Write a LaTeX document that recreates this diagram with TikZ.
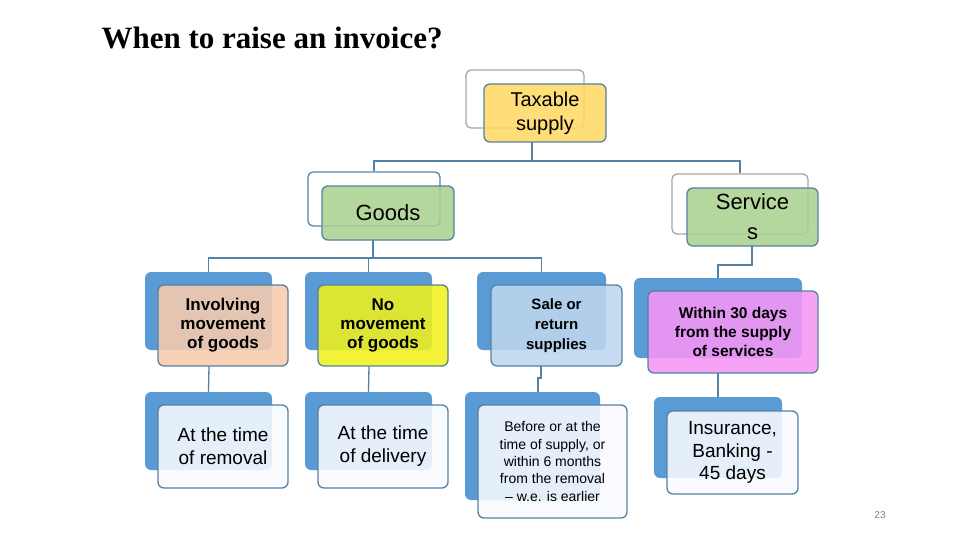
\documentclass[tikz,border=0pt]{standalone}
\usepackage{fontspec}
\setmainfont{Liberation Sans}
\newfontfamily\titlefont{Liberation Serif}
\begin{document}
\begin{tikzpicture}[x=1pt,y=-1pt,
  conn/.style={draw=lineblue,line width=1.3pt},
  outl/.style={draw=#1,line width=1.3pt,rounded corners=5pt,fill=none},
  solidback/.style={fill=backblue,draw=none,rounded corners=6pt},
  front/.style={fill=#1,fill opacity=0.88,text opacity=1,draw=lineblue,line width=1.3pt,rounded corners=6pt,align=center,inner sep=2pt},
  bt/.style={font=\bfseries\fontsize{17}{19}\selectfont}
]
\definecolor{lineblue}{RGB}{84,130,165}
\definecolor{backblue}{RGB}{91,155,213}
\definecolor{ylw}{RGB}{255,217,102}
\definecolor{grn}{RGB}{169,209,142}
\definecolor{peach}{RGB}{248,203,173}
\definecolor{yel}{RGB}{240,240,30}
\definecolor{lblue}{RGB}{189,215,238}
\definecolor{pink}{RGB}{245,150,245}
\definecolor{wht}{RGB}{248,251,255}
\useasboundingbox (0,0) rectangle (960,540);
\node[anchor=west,font=\titlefont\bfseries\fontsize{31}{33}\selectfont] (title) at (98,38) {When to raise an invoice?};
\node[text=gray,font=\fontsize{10}{12}\selectfont] (pg) at (880,515) {23};
% back shapes
\node[outl=gray!70,minimum width=118,minimum height=58] (tb) at (525,99) {};
\node[outl=lineblue,minimum width=132,minimum height=54] (gb) at (374,199) {};
\node[outl=gray!70,minimum width=136,minimum height=60] (sb) at (740,204) {};
\node[solidback,minimum width=127,minimum height=78] (ib) at (208.5,311) {};
\node[solidback,minimum width=127,minimum height=78] (nb) at (368.5,311) {};
\node[solidback,minimum width=129,minimum height=78] (rb) at (541.5,311) {};
\node[solidback,minimum width=168,minimum height=80] (wb) at (718,318) {};
\node[solidback,minimum width=127,minimum height=78] (mb) at (208.5,431) {};
\node[solidback,minimum width=127,minimum height=78] (db) at (368.5,431) {};
\node[solidback,minimum width=135,minimum height=108] (eb) at (532.5,446) {};
\node[solidback,minimum width=128,minimum height=81] (sib) at (718,437.5) {};
% connectors
\coordinate (t1) at (532,161);
\draw[conn] (532,142) -- (t1);
\draw[conn] (t1) -| (gb.north);
\draw[conn] (t1) -| (sb.north);
\coordinate (g1) at (373,258);
\draw[conn] (373,240) -- (g1);
\draw[conn] (g1) -| (ib.north);
\draw[conn] (g1) -| (nb.north);
\draw[conn] (g1) -| (rb.north);
\draw[conn] (752,246) -- (752,265) -| (wb.north);
\draw[conn] (209,366) -- (mb.north);
\draw[conn] (369,366) -- (db.north);
\draw[conn] (541,366) -- (541,378) -- (538,378) -- (538,392);
\draw[conn] (718,373) -- (sib.north);
% fronts
\node[front=ylw,minimum width=122,minimum height=58,font=\fontsize{20}{24}\selectfont] (tax) at (545,113) {Taxable\\supply};
\node[front=grn,minimum width=132,minimum height=54,font=\fontsize{22}{26}\selectfont] (goods) at (388,213) {Goods};
\node[front=grn,minimum width=131,minimum height=58,font=\fontsize{22}{30}\selectfont] (serv) at (752.5,217) {Service\\s};
\node[front=peach,minimum width=130,minimum height=81,bt] (inv) at (223,325.5) {Involving\\movement\\of goods};
\node[front=yel,minimum width=130,minimum height=81,bt] (nom) at (383,325.5) {No\\movement\\of goods};
\node[front=lblue,minimum width=131,minimum height=81,font=\bfseries\fontsize{15}{20}\selectfont] (sale) at (556.5,325.5) {Sale or\\return\\supplies};
\node[front=pink,minimum width=170,minimum height=82,font=\bfseries\fontsize{15.5}{19}\selectfont] (within) at (733,332) {Within 30 days\\from the supply\\of services};
\node[front=wht,minimum width=130,minimum height=83,font=\fontsize{19}{23}\selectfont] (rem) at (223,446.5) {At the time\\of removal};
\node[front=wht,minimum width=130,minimum height=83,font=\fontsize{19}{23}\selectfont] (del) at (383,446.5) {At the time\\of delivery};
\node[front=wht,minimum width=149,minimum height=113,font=\fontsize{14}{17.3}\selectfont] (bef) at (552.5,461.5) {Before or at the\\time of supply, or\\within 6 months\\from the removal\\– w.e. is earlier};
\node[front=wht,minimum width=131,minimum height=83,font=\fontsize{19}{22.5}\selectfont] (ins) at (732.5,452.5) {Insurance,\\Banking -\\45 days};
\end{tikzpicture}
\end{document}
